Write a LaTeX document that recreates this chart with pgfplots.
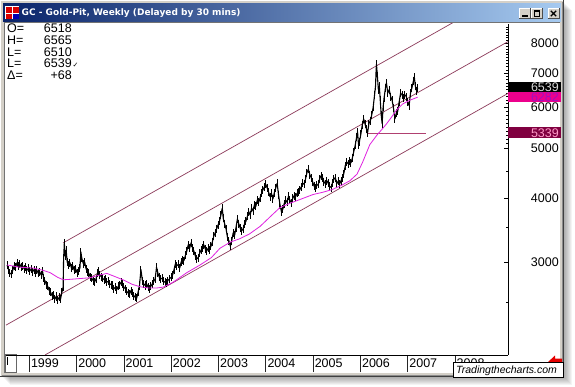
\documentclass[border=0pt]{standalone}
\usepackage{pgfplots}
\usepackage{pgfplotstable}
\pgfplotsset{compat=1.18}
\usepackage{fontspec}
\setmainfont{Liberation Sans}
\newfontfamily\djv{DejaVu Sans}
\definecolor{winframe}{HTML}{D4D0C8}
\definecolor{titleA}{HTML}{0A246A}
\definecolor{titleB}{HTML}{A6CAF0}
\definecolor{chan}{HTML}{8C3A5A}
\definecolor{hlinec}{HTML}{B04070}
\definecolor{mac}{HTML}{E020E0}
\definecolor{maroonbox}{HTML}{800040}
\definecolor{pinktext}{HTML}{FF9AC8}
\definecolor{purpletext}{HTML}{A010C0}
\newcommand{\lab}{\fontsize{12.5}{14}\selectfont}

\pgfplotstableread{
yr val
1998.53 2960
1998.56 2900
1998.59 2850
1998.62 2840
1998.65 2890
1998.68 2950
1998.71 2930
1998.74 2990
1998.77 2950
1998.80 2970
1998.83 2930
1998.86 2950
1998.89 2910
1998.92 2940
1998.95 2890
1998.98 2920
1999.01 2880
1999.04 2910
1999.07 2870
1999.10 2900
1999.13 2860
1999.16 2890
1999.19 2850
1999.22 2870
1999.25 2830
1999.28 2880
1999.30 2790
1999.33 2760
1999.36 2710
1999.39 2690
1999.42 2640
1999.45 2620
1999.48 2580
1999.51 2590
1999.54 2540
1999.57 2570
1999.60 2530
1999.63 2560
1999.66 2540
1999.69 2620
1999.715 2680
1999.725 3050
1999.74 3260
1999.76 3080
1999.78 3160
1999.80 3000
1999.83 2960
1999.86 2990
1999.89 2920
1999.92 2950
1999.95 2890
1999.98 2910
2000.01 2860
2000.04 2880
2000.07 2920
2000.09 3140
2000.11 3050
2000.14 2980
2000.17 3000
2000.20 2910
2000.23 2870
2000.26 2850
2000.29 2800
2000.32 2790
2000.35 2760
2000.38 2740
2000.41 2780
2000.44 2850
2000.46 2880
2000.49 2830
2000.52 2810
2000.55 2790
2000.58 2770
2000.61 2780
2000.64 2740
2000.67 2750
2000.70 2720
2000.73 2710
2000.76 2700
2000.79 2660
2000.82 2680
2000.85 2650
2000.88 2690
2000.91 2710
2000.94 2740
2000.97 2720
2001.00 2680
2001.03 2660
2001.06 2630
2001.09 2610
2001.12 2600
2001.15 2640
2001.18 2610
2001.21 2580
2001.24 2560
2001.27 2550
2001.30 2620
2001.33 2700
2001.36 2900
2001.39 2760
2001.42 2720
2001.45 2700
2001.48 2720
2001.51 2680
2001.54 2660
2001.57 2690
2001.60 2720
2001.63 2750
2001.66 2780
2001.69 2930
2001.72 2850
2001.75 2800
2001.78 2780
2001.81 2790
2001.84 2750
2001.87 2740
2001.90 2730
2001.93 2760
2001.96 2780
2002.00 2800
2002.03 2830
2002.06 2900
2002.09 2980
2002.12 2950
2002.15 2970
2002.18 2920
2002.21 3000
2002.24 3030
2002.27 3020
2002.30 3090
2002.33 3150
2002.36 3240
2002.39 3190
2002.42 3270
2002.45 3200
2002.48 3150
2002.51 3080
2002.54 3040
2002.57 3060
2002.60 3120
2002.63 3160
2002.66 3200
2002.69 3240
2002.72 3180
2002.75 3150
2002.78 3190
2002.81 3170
2002.84 3220
2002.87 3280
2002.90 3370
2002.93 3420
2002.96 3480
2002.99 3540
2003.02 3600
2003.05 3700
2003.08 3820
2003.10 3650
2003.13 3560
2003.16 3480
2003.19 3350
2003.22 3300
2003.25 3220
2003.28 3300
2003.31 3420
2003.34 3380
2003.37 3500
2003.40 3640
2003.43 3560
2003.46 3490
2003.49 3450
2003.52 3480
2003.55 3560
2003.58 3600
2003.61 3680
2003.64 3760
2003.67 3700
2003.70 3820
2003.73 3770
2003.76 3880
2003.79 3850
2003.82 3960
2003.85 3920
2003.88 4000
2003.91 4080
2003.94 4150
2003.97 4200
2004.00 4250
2004.03 4180
2004.06 4100
2004.09 4020
2004.12 4080
2004.15 3980
2004.18 4090
2004.21 4180
2004.24 4270
2004.27 4050
2004.30 3880
2004.33 3760
2004.36 3800
2004.39 3900
2004.42 3960
2004.45 3920
2004.48 4030
2004.51 3960
2004.54 3910
2004.57 3990
2004.60 4040
2004.63 4020
2004.66 4080
2004.69 4100
2004.72 4150
2004.75 4200
2004.78 4270
2004.81 4250
2004.84 4350
2004.87 4480
2004.90 4550
2004.93 4440
2004.96 4380
2004.99 4300
2005.02 4220
2005.05 4180
2005.08 4230
2005.11 4250
2005.14 4360
2005.17 4420
2005.20 4380
2005.23 4300
2005.26 4260
2005.29 4320
2005.32 4270
2005.35 4210
2005.38 4190
2005.41 4280
2005.44 4350
2005.47 4380
2005.50 4260
2005.53 4310
2005.56 4250
2005.59 4320
2005.62 4380
2005.65 4460
2005.68 4620
2005.71 4700
2005.74 4660
2005.77 4720
2005.80 4680
2005.83 4780
2005.86 4920
2005.89 5060
2005.92 5250
2005.94 5380
2005.96 5080
2005.98 5150
2006.01 5320
2006.04 5550
2006.07 5700
2006.10 5560
2006.13 5440
2006.15 5340
2006.18 5580
2006.21 5650
2006.24 5800
2006.27 6000
2006.30 6350
2006.32 6600
2006.33 7000
2006.34 7280
2006.36 6900
2006.38 6500
2006.40 6600
2006.42 6200
2006.44 5800
2006.46 5580
2006.48 6000
2006.50 6250
2006.53 6550
2006.55 6700
2006.58 6400
2006.61 6500
2006.64 6300
2006.67 6200
2006.70 5980
2006.73 5700
2006.76 5850
2006.79 5900
2006.82 6150
2006.85 6400
2006.88 6350
2006.91 6250
2006.94 6350
2006.97 6300
2007.00 6150
2007.03 6050
2007.06 6400
2007.09 6550
2007.12 6750
2007.14 6880
2007.16 6620
2007.19 6450
2007.21 6539
}\pricetable

\pgfplotstableread{
yr val
1998.53 2960
1998.80 2930
1999.08 2920
1999.29 2890
1999.44 2860
1999.60 2800
1999.72 2770
1999.85 2775
2000.07 2785
2000.28 2795
2000.49 2830
2000.64 2850
2000.81 2810
2000.98 2770
2001.17 2715
2001.34 2685
2001.51 2670
2001.70 2670
2001.83 2680
2002.04 2740
2002.33 2860
2002.61 2960
2002.85 3060
2003.03 3190
2003.25 3280
2003.45 3330
2003.65 3400
2003.88 3520
2004.10 3680
2004.30 3830
2004.50 3900
2004.72 3970
2005.00 4060
2005.20 4100
2005.40 4150
2005.60 4230
2005.78 4320
2005.93 4450
2006.05 4700
2006.20 5080
2006.35 5300
2006.45 5430
2006.55 5570
2006.65 5730
2006.77 5940
2006.90 6100
2007.05 6200
2007.15 6250
2007.21 6282
}\matable

\begin{document}
\begin{tikzpicture}
\useasboundingbox (0,0) rectangle (575pt,-386pt);
\begin{scope}[x=1pt,y=-1pt]
 \fill[white] (0,0) rectangle (575,386);
 \foreach \d in {1,...,8} { \fill[black,opacity=0.045] (\d+2,\d+2) rectangle (564+\d,377+\d); }
 \fill[winframe] (0,0) rectangle (564,377);
 \draw[white, line width=1pt] (0.5,377) -- (0.5,0.5) -- (564,0.5);
 \draw[black!75, line width=1pt] (0,376.5) -- (563.5,376.5) -- (563.5,0);
 \draw[black!45, line width=1pt] (1.5,375.5) -- (562.5,375.5) -- (562.5,1.5);
 \shade[left color=titleA, right color=titleB] (3,3) rectangle (561,21);
 % icon
 \fill[white] (5,6) rectangle (19,19);
 \fill[red!85!black] (5.5,7) rectangle (11.5,12.5);
 \fill[red!85!black] (12.5,7) rectangle (18.5,12.5);
 \fill[red!85!black] (5.5,13.5) rectangle (11.5,18.5);
 \fill[blue!70!black] (12.5,13.5) rectangle (18.5,18.5);
 \node[anchor=west, text=white, inner sep=0pt] at (21.5,12.8) {\djv\bfseries\fontsize{9}{10}\selectfont GC - Gold-Pit, Weekly (Delayed by 30 mins)};
 % buttons
 \foreach \a/\b in {519/531, 531/542.5, 547.5/559.5} {
   \fill[winframe] (\a,8) rectangle (\b,19);
   \draw[white] (\a+0.5,19) -- (\a+0.5,8.5) -- (\b,8.5);
   \draw[black!70] (\a,18.5) -- (\b-0.5,18.5) -- (\b-0.5,8);
 }
 \fill[black] (522,15) rectangle (528,17);
 \draw[black] (534.5,10.5) rectangle (539.5,16.5);
 \fill[black] (534,10) rectangle (540,11.8);
 \draw[black, line width=1.3pt] (550.8,10.8) -- (556.2,16.2) (556.2,10.8) -- (550.8,16.2);
 % client area
 \fill[white] (4,22) rectangle (560,373);
 \draw[black!55, line width=1pt] (4.5,373) -- (4.5,22.5) -- (560,22.5);
 % OHLC block
 \node[anchor=base west, inner sep=0pt] at (7,32.6) {\lab O=};
 \node[anchor=base west, inner sep=0pt] at (7,44.3) {\lab H=};
 \node[anchor=base west, inner sep=0pt] at (7,56.0) {\lab L=};
 \node[anchor=base west, inner sep=0pt] at (7,67.7) {\lab L=};
 \node[anchor=base west, inner sep=0pt] at (7,79.4) {\lab Δ=};
 \node[anchor=base east, inner sep=0pt] at (72,32.6) {\lab 6518};
 \node[anchor=base east, inner sep=0pt] at (72,44.3) {\lab 6565};
 \node[anchor=base east, inner sep=0pt] at (72,56.0) {\lab 6510};
 \node[anchor=base east, inner sep=0pt] at (72,67.7) {\lab 6539};
 \node[anchor=base west, inner sep=0pt] at (72.5,67.7) {\djv\fontsize{7}{8}\selectfont ✓};
 \node[anchor=base east, inner sep=0pt] at (72,79.4) {\lab +68};
 % scroll box bottom-left
 \draw[black!60] (5,354.5) rectangle (16,372);
 \draw[black] (7.5,357) -- (7.5,365);
\end{scope}

\begin{axis}[
  at={(6pt,-355pt)}, anchor=south west,
  scale only axis, width=502pt, height=331pt,
  xmin=1998.507, xmax=2009.121,
  ymode=log, ymin=1977, ymax=8723,
  axis x line=bottom, axis y line=right,
  axis line style={-, black, line width=0.8pt},
  xtick=\empty,
  ytick={3000,4000,5000,6000,7000,8000},
  yticklabels={3000,4000,5000,6000,7000,8000},
  minor ytick={2500,3500,4500,5100,5200,5300,5400,5500,5600,5700,5800,5900,6100,6200,6300,6400,6500,6600,6700,6800,6900,7100,7200,7300,7400,7500,7600,7700,7800,7900,8100,8200,8300,8400,8500,8600},
  tick align=inside,
  major tick length=4pt, minor tick length=2.5pt,
  every tick/.style={black, line width=0.6pt},
  yticklabel style={anchor=east, xshift=51pt, inner sep=0pt, font=\lab},
]
\addplot[chan, line width=0.7pt] coordinates {(1998.507,2260) (2009.121,8060)};
\addplot[chan, line width=0.7pt] coordinates {(1999.712,3267) (2009.121,10090)};
\addplot[chan, line width=0.7pt] coordinates {(1999.332,1977) (2009.121,6390)};
\addplot[hlinec, line width=0.8pt] coordinates {(2006.167,5339) (2007.393,5339)};
\addplot[black, line width=1.1pt, line join=round,
  error bars/.cd, y dir=both, y fixed relative=0.018, error mark=none,
  error bar style={black, line width=1.0pt}] table[x=yr,y=val]{\pricetable};
\addplot[mac, line width=0.8pt] table[x=yr,y=val]{\matable};
\end{axis}

\begin{axis}[
  at={(6pt,-372pt)}, anchor=south west,
  scale only axis, width=502pt, height=17pt,
  xmin=1998.507, xmax=2009.121, ymin=0, ymax=1,
  hide y axis,
  axis line style={draw=none},
  xtick={1999,2000,2001,2002,2003,2004,2005,2006,2007,2008},
  xticklabels={1999,2000,2001,2002,2003,2004,2005,2006,2007,2008},
  xtick pos=bottom,
  tick align=inside, major tick length=16pt,
  major tick style={black!85, line width=0.7pt},
  xticklabel style={anchor=west, yshift=8.5pt, xshift=1.5pt, inner sep=0pt, font=\lab},
]
\addplot[draw=none] coordinates {(2000,0.5)};
\end{axis}

\begin{scope}[x=1pt,y=-1pt]
 \fill[black] (508,81.7) rectangle (561,92.3);
 \node[anchor=base east, inner sep=0pt, text=white!85!black] at (559,91.7) {\lab 6539};
 \fill[magenta] (508,92.3) rectangle (561,101.8);
 \node[anchor=base east, inner sep=0pt, text=purpletext] at (559,101.6) {\lab 6282};
 \fill[maroonbox] (508,126.7) rectangle (561,138.3);
 \node[anchor=base east, inner sep=0pt, text=pinktext] at (559,137.3) {\lab 5339};
 % red arrow
 \fill[red!90!black] (548,362) -- (555,355.5) -- (555,358.5) -- (562,358.5) -- (562,363) -- cycle;
 % watermark
 \fill[white] (453,362) rectangle (563,377);
 \draw[black, line width=0.8pt] (453,362) rectangle (563,377);
 \node[anchor=base west, inner sep=0pt] at (456,373.2) {\fontsize{10.5}{12}\selectfont\itshape\underline{Tradingthecharts.com}};
\end{scope}
\end{tikzpicture}
\end{document}
